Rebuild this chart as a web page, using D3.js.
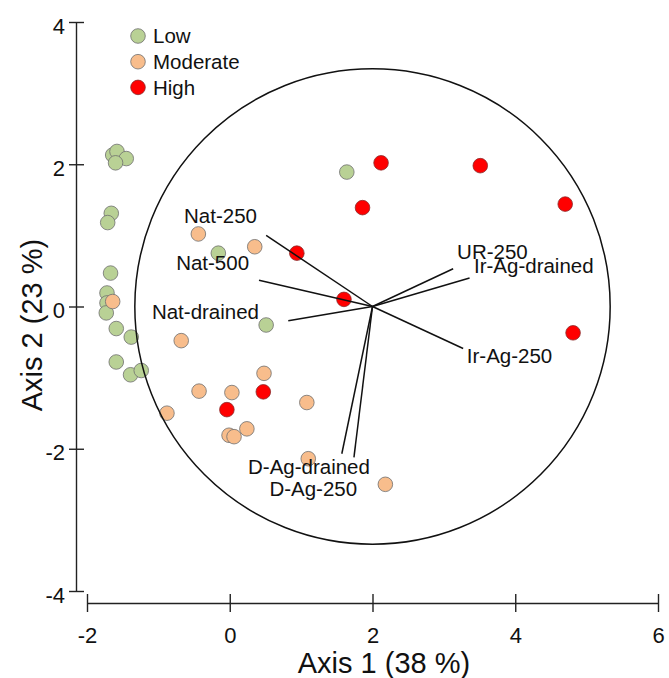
<!DOCTYPE html>
<html>
<head>
<meta charset="utf-8">
<script src="https://cdn.jsdelivr.net/npm/d3@7"></script>
<style>
  body { margin: 0; background: #fff; }
  text { font-family: "Liberation Sans", Arial, sans-serif; fill: #111; }
</style>
</head>
<body>
<div id="chart"></div>
<script>
// Site scores (Axis 1, Axis 2) by disturbance class
const lowPoints = [
    [-1.64, 2.13], [-1.58, 2.18], [-1.45, 2.08], [-1.60, 2.02],
    [-1.66, 1.31], [-1.71, 1.18], [-1.67, 0.47], [-1.72, 0.19],
    [-1.72, 0.05], [-1.73, -0.09], [-1.59, -0.31], [-1.38, -0.43],
    [-1.59, -0.78], [-1.39, -0.96], [-1.24, -0.90], [1.64, 1.89],
    [-0.16, 0.75], [0.51, -0.26]
];
const moderatePoints = [
    [-1.64, 0.07], [-0.44, 1.02], [0.35, 0.84], [-0.68, -0.48],
    [0.48, -0.94], [-0.43, -1.19], [0.03, -1.21], [1.08, -1.35],
    [-0.88, -1.50], [0.24, -1.72], [-0.01, -1.81], [0.06, -1.83],
    [1.10, -2.14], [2.18, -2.50]
];
const highPoints = [
    [2.12, 2.02], [3.51, 1.98], [1.86, 1.39], [4.70, 1.44],
    [4.81, -0.37], [0.94, 0.75], [1.60, 0.10], [0.47, -1.20],
    [-0.04, -1.45]
];

// Environmental vectors: name, tip (x, y), label (x, y) in axis units
const vectorNames = ['Nat-250', 'Nat-500', 'Nat-drained', 'UR-250', 'Ir-Ag-drained', 'Ir-Ag-250', 'D-Ag-drained', 'D-Ag-250'];
const vectorTips = [[0.51, 1.00], [0.41, 0.37], [0.82, -0.20], [3.13, 0.53], [3.36, 0.40], [3.27, -0.59], [1.74, -2.12], [1.57, -2.07]];
const vectorLabels = [[-0.13, 1.17], [-0.24, 0.52], [-0.34, -0.17], [3.68, 0.67], [4.26, 0.47], [3.92, -0.79], [1.11, -2.35], [1.17, -2.67]];
const vectorOrigin = [2, 0];
const circleRadius = 3.33;

const xTicks = [-2, 0, 2, 4, 6];
const yTicks = [-4, -2, 0, 2, 4];
const legendLabels = ['Low', 'Moderate', 'High'];
const colors = { Low: '#b9d195', Moderate: '#f8bd8c', High: '#ff0000' };

const width = 669, height = 678;

const svg = d3.select('#chart')
    .append('svg')
    .attr('width', width)
    .attr('height', height);

const x = d3.scaleLinear().domain([-2, 6]).range([87, 658]);
const y = d3.scaleLinear().domain([-4, 4]).range([591, 22]);

// plain hyphen for negatives, like the original figure
const fmt = d => String(d);

// Axes (detached, crossing ticks)
const xAxisY = 603, yAxisX = 76;

const xAxis = svg.append('g')
    .attr('transform', `translate(0,${xAxisY})`)
    .call(d3.axisBottom(x).tickValues(xTicks).tickSize(0).tickPadding(24).tickFormat(fmt));
xAxis.select('.domain').attr('stroke', '#222').attr('stroke-width', 1.4);
xAxis.selectAll('.tick').append('line')
    .attr('y1', -9).attr('y2', 9)
    .attr('stroke', '#222').attr('stroke-width', 1.4);
xAxis.selectAll('.tick text')
    .attr('dy', '0.71em')
    .style('font-size', '22px')
    .style('font-family', '"Liberation Sans", Arial, sans-serif')
    .attr('fill', '#111');

const yAxis = svg.append('g')
    .attr('transform', `translate(${yAxisX},0)`)
    .call(d3.axisLeft(y).tickValues(yTicks).tickSize(0).tickPadding(11).tickFormat(fmt));
yAxis.select('.domain').attr('stroke', '#222').attr('stroke-width', 1.4);
yAxis.selectAll('.tick').append('line')
    .attr('x1', -7).attr('x2', 8)
    .attr('stroke', '#222').attr('stroke-width', 1.4);
yAxis.selectAll('.tick text')
    .attr('dy', '0.5em')
    .style('font-size', '22px')
    .style('font-family', '"Liberation Sans", Arial, sans-serif')
    .attr('fill', '#111');

// Axis titles
svg.append('text')
    .attr('x', 384)
    .attr('y', 673)
    .attr('text-anchor', 'middle')
    .style('font-size', '29px')
    .text('Axis 1 (38 %)');

svg.append('text')
    .attr('transform', 'translate(42,325) rotate(-90)')
    .attr('text-anchor', 'middle')
    .style('font-size', '29px')
    .text('Axis 2 (23 %)');

// Points
const groups = [
    { name: 'Low', pts: lowPoints },
    { name: 'Moderate', pts: moderatePoints },
    { name: 'High', pts: highPoints }
];
groups.forEach(gr => {
    svg.append('g').selectAll('circle')
        .data(gr.pts)
        .enter()
        .append('circle')
        .attr('cx', d => x(d[0]))
        .attr('cy', d => y(d[1]))
        .attr('r', 7.3)
        .attr('fill', colors[gr.name])
        .attr('stroke', gr.name === 'High' ? '#8a2a2a' : '#6f6f6f')
        .attr('stroke-width', 0.8);
});

// Correlation circle
svg.append('circle')
    .attr('cx', x(vectorOrigin[0]))
    .attr('cy', y(vectorOrigin[1]))
    .attr('r', x(vectorOrigin[0] + circleRadius) - x(vectorOrigin[0]))
    .attr('fill', 'none')
    .attr('stroke', '#111')
    .attr('stroke-width', 1.5);

// Vectors
const vectors = vectorNames.map((name, i) => ({ name, tip: vectorTips[i], label: vectorLabels[i] }));

svg.append('g').selectAll('line')
    .data(vectors)
    .enter()
    .append('line')
    .attr('x1', x(vectorOrigin[0]))
    .attr('y1', y(vectorOrigin[1]))
    .attr('x2', d => x(d.tip[0]))
    .attr('y2', d => y(d.tip[1]))
    .attr('stroke', '#111')
    .attr('stroke-width', 1.5);

svg.append('g').selectAll('text')
    .data(vectors)
    .enter()
    .append('text')
    .attr('x', d => x(d.label[0]))
    .attr('y', d => y(d.label[1]))
    .attr('text-anchor', 'middle')
    .style('font-size', '20.5px')
    .text(d => d.name);

// Legend
const legend = svg.append('g').attr('transform', 'translate(138,36)');
legendLabels.forEach((lab, i) => {
    const row = legend.append('g').attr('transform', `translate(0,${i * 25.7})`);
    row.append('circle')
        .attr('r', 7.3)
        .attr('fill', colors[lab])
        .attr('stroke', lab === 'High' ? '#8a2a2a' : '#6f6f6f')
        .attr('stroke-width', 0.8);
    row.append('text')
        .attr('x', 15)
        .attr('y', 7.3)
        .style('font-size', '20.5px')
        .text(lab);
});
</script>
</body>
</html>
